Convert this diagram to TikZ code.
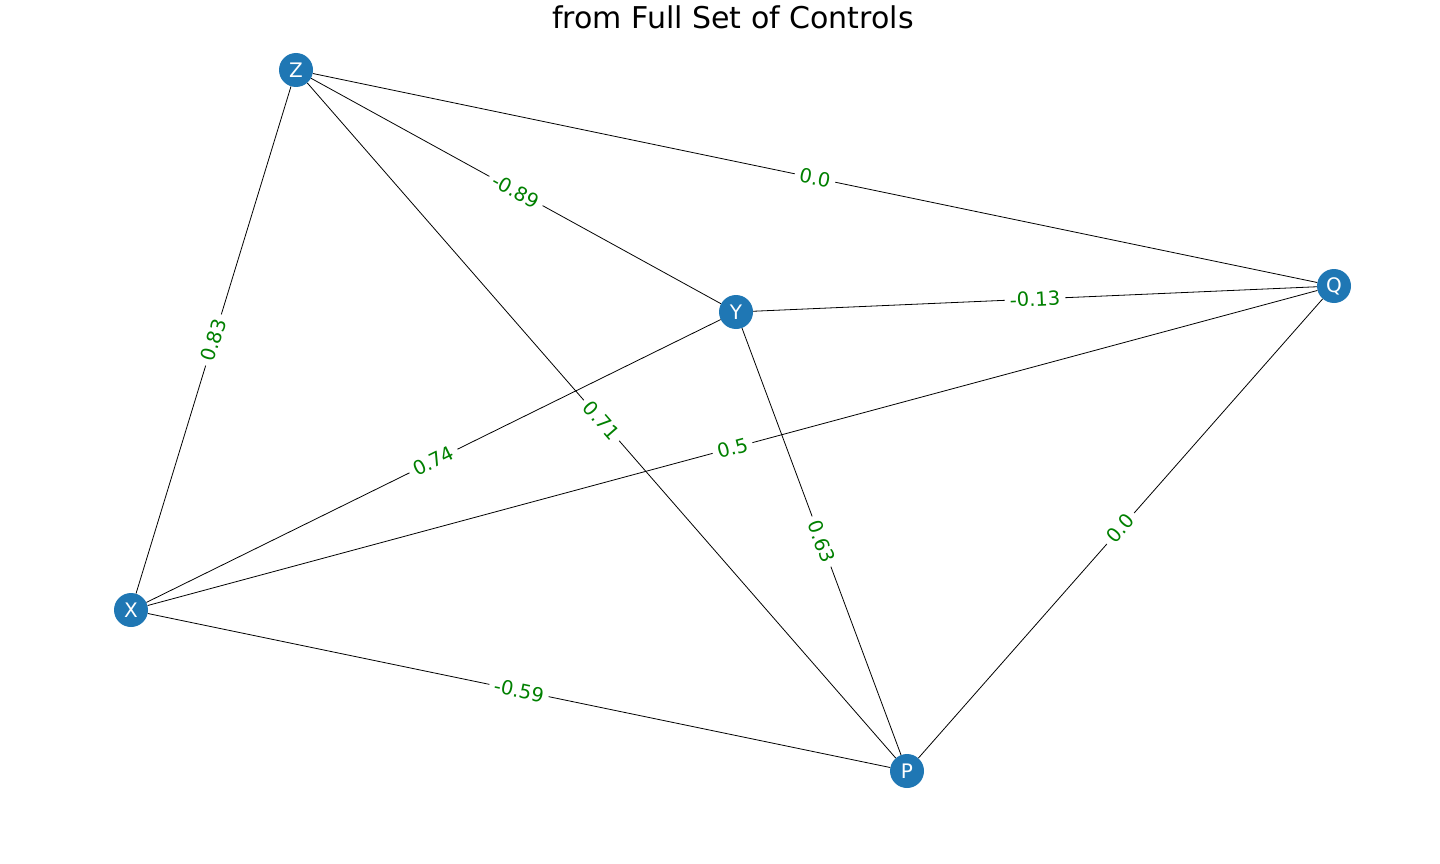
\documentclass[tikz,border=0pt]{standalone}
\usepackage{fontspec}
\setmainfont{DejaVu Sans}
\definecolor{nodeblue}{HTML}{1F77B4}
\definecolor{lblgreen}{HTML}{008000}
\begin{document}
\begin{tikzpicture}[x=1pt,y=-1pt,
  vert/.style={circle,fill=nodeblue,draw=none,minimum size=34pt,inner sep=0pt,text=white,font=\fontsize{20}{20}\selectfont},
  edge/.style={black,line width=0.8pt},
  wlabel/.style={midway,sloped,fill=white,inner xsep=5pt,inner ysep=2pt,text=lblgreen,font=\fontsize{19.5}{19.5}\selectfont}]
\useasboundingbox (0,0) rectangle (1440,864);
\node[font=\fontsize{30}{30}\selectfont] (title) at (733,17) {from Full Set of Controls};
\node[vert] (Z) at (296,70) {Z};
\node[vert] (Y) at (736,312) {Y};
\node[vert] (Q) at (1334,286) {Q};
\node[vert] (X) at (131,610) {X};
\node[vert] (P) at (907,771) {P};
\draw[edge] (Z) -- node[wlabel] {0.0} (Q);
\draw[edge] (Z) -- node[wlabel] {-0.89} (Y);
\draw[edge] (Z) -- node[wlabel] {0.71} (P);
\draw[edge] (Z) -- node[wlabel] {0.83} (X);
\draw[edge] (Y) -- node[wlabel] {-0.13} (Q);
\draw[edge] (X) -- node[wlabel] {0.74} (Y);
\draw[edge] (X) -- node[wlabel] {0.5} (Q);
\draw[edge] (Y) -- node[wlabel] {0.63} (P);
\draw[edge] (Q) -- node[wlabel] {0.0} (P);
\draw[edge] (X) -- node[wlabel] {-0.59} (P);
\end{tikzpicture}
\end{document}
